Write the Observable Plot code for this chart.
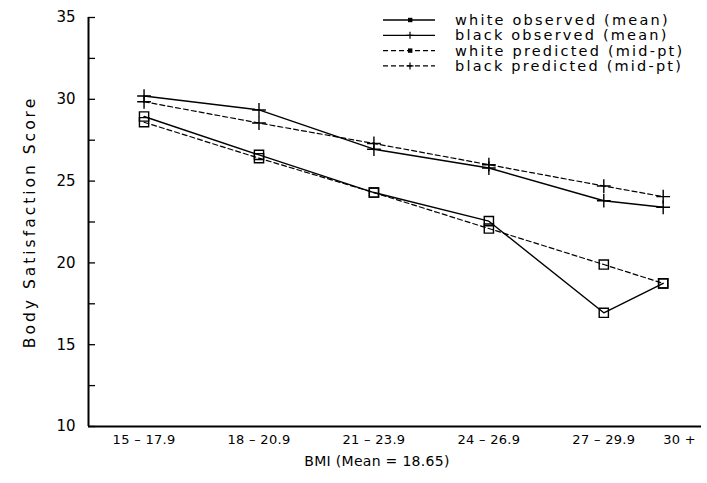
<!DOCTYPE html>
<html><head><meta charset="utf-8">
<script src="https://cdn.jsdelivr.net/npm/d3@7"></script>
<script src="https://cdn.jsdelivr.net/npm/@observablehq/plot@0.6"></script>
<style>
body{margin:0;background:#fff;}
#wrap{position:relative;width:707px;height:483px;}
#legend{position:absolute;left:370px;top:0px;}
.ls1{letter-spacing:0.3px;}
.ls2{letter-spacing:3px;}
</style></head><body><div id="wrap"></div>
<script>
const bmiCategories = ["15 – 17.9","18 – 20.9","21 – 23.9","24 – 26.9","27 – 29.9","30 +"];
const bmiMidpoints = [16.45, 19.45, 22.45, 25.45, 28.45, 30];
const whiteObserved = [28.95, 26.6, 24.3, 22.55, 16.95, 18.75];
const blackObserved = [30.2, 29.35, 26.95, 25.8, 23.8, 23.4];
const whitePredicted = [28.6, 26.4, 24.3, 22.1, 19.9, 18.75];
const blackPredicted = [29.85, 28.55, 27.3, 26.0, 24.7, 24.05];
const yTicks = [10, 15, 20, 25, 30, 35];
const yMinorTicks = [12.5, 17.5, 22.5, 27.5, 32.5];
const seriesNames = ["white observed (mean)", "black observed (mean)", "white predicted (mid-pt)", "black predicted (mid-pt)"];
const xTitle = "BMI (Mean = 18.65)";
const yTitle = "Body Satisfaction Score";

const rows = bmiCategories.map((c, i) => ({cat: c, bmi: bmiMidpoints[i], wo: whiteObserved[i], bo: blackObserved[i], wp: whitePredicted[i], bp: blackPredicted[i]}));

const FONT = "DejaVu Sans";
const W = 707, H = 483, ml = 88, mr = 6, mt = 17, mb = 57;
const tickLen = 7;
const plotW = W - ml - mr;
const dash = "5,3";

const chart = Plot.plot({
  width: W, height: H, marginLeft: ml, marginRight: mr, marginTop: mt, marginBottom: mb,
  style: {fontFamily: FONT, fontSize: "15px", background: "white", color: "black"},
  x: {domain: [15, 31], axis: null},
  y: {domain: [10, 35], ticks: yTicks, tickSize: 0, tickPadding: 13, label: null, tickFormat: d => String(d)},
  marks: [
    Plot.ruleY(yTicks.concat(yMinorTicks), {insetRight: plotW - tickLen, stroke: "black", strokeWidth: 1.3}),
    Plot.ruleX([15], {stroke: "black", strokeWidth: 2}),
    Plot.ruleY([10], {stroke: "black", strokeWidth: 2}),
    Plot.line(rows, {x: "bmi", y: "wp", stroke: "black", strokeWidth: 1.2, strokeDasharray: dash}),
    Plot.line(rows, {x: "bmi", y: "bp", stroke: "black", strokeWidth: 1.2, strokeDasharray: dash}),
    Plot.line(rows, {x: "bmi", y: "wo", stroke: "black", strokeWidth: 1.4}),
    Plot.line(rows, {x: "bmi", y: "bo", stroke: "black", strokeWidth: 1.4}),
    Plot.dot(rows, {x: "bmi", y: "wp", symbol: "square", r: 5.2, stroke: "black", fill: "none", strokeWidth: 1.4}),
    Plot.dot(rows, {x: "bmi", y: "wo", symbol: "square", r: 5.2, stroke: "black", fill: "none", strokeWidth: 1.4}),
    Plot.dot(rows, {x: "bmi", y: "bp", symbol: "plus", r: 4.5, stroke: "black", strokeWidth: 1.4}),
    Plot.dot(rows, {x: "bmi", y: "bo", symbol: "plus", r: 4.5, stroke: "black", strokeWidth: 1.4}),
    Plot.text(rows.slice(0, 5), {x: "bmi", text: "cat", frameAnchor: "bottom", dy: 17, fontSize: 13, fill: "black", className: "ls1"}),
    Plot.text(rows.slice(5), {x: "bmi", text: "cat", frameAnchor: "bottom", dy: 17, textAnchor: "start", fontSize: 13, fill: "black", className: "ls1"}),
    Plot.text([xTitle], {text: d => d, frameAnchor: "bottom", dy: 39, dx: -18, fontSize: 14, fill: "black", className: "ls1"}),
    Plot.text([yTitle], {text: d => d, frameAnchor: "left", textAnchor: "middle", lineAnchor: "middle", rotate: -90, dx: -58, fontSize: 15.5, fill: "black", className: "ls2"})
  ]
});
document.getElementById("wrap").appendChild(chart);

// legend
const legend = d3.select("#wrap").append("svg").attr("id", "legend").attr("width", 337).attr("height", 82);
const styles = [
  {dash: null, sym: "sq"}, {dash: null, sym: "plus"},
  {dash: dash, sym: "sq"}, {dash: dash, sym: "plus"}
];
seriesNames.forEach((name, i) => {
  const y = 20 + i * 15.3;
  const g = legend.append("g").attr("transform", `translate(0,${y})`);
  g.append("line").attr("x1", 13).attr("x2", 65).attr("y1", 0).attr("y2", 0)
    .attr("stroke", "black").attr("stroke-width", styles[i].dash ? 1.1 : 1.3)
    .attr("stroke-dasharray", styles[i].dash);
  if (styles[i].sym === "sq") {
    g.append("rect").attr("x", 38).attr("y", -2.2).attr("width", 4.4).attr("height", 4.4).attr("fill", "black");
  } else {
    g.append("path").attr("d", "M36.5,0H43.5M40,-3.5V3.5").attr("stroke", "black").attr("stroke-width", 1.2);
  }
  g.append("text").attr("x", 85).attr("y", 0).attr("dy", "0.35em")
    .attr("font-family", FONT).attr("font-size", 14.5).attr("letter-spacing", "2.2px")
    .attr("fill", "black").text(name);
});
</script>
</body></html>
